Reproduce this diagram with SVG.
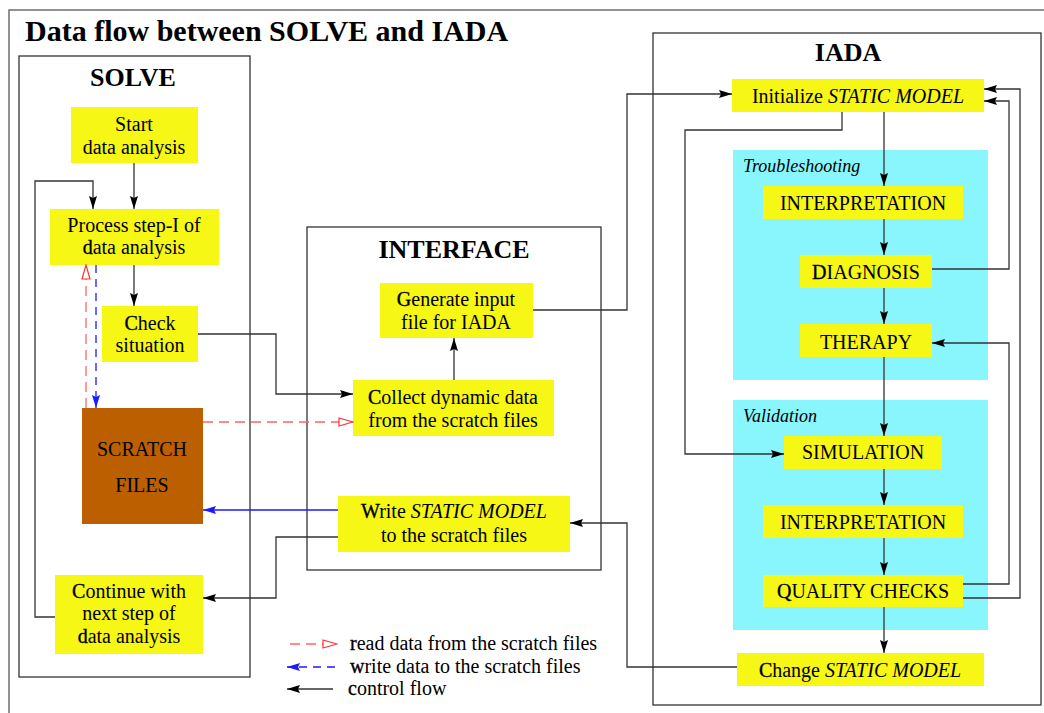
<svg xmlns="http://www.w3.org/2000/svg" width="1044" height="713" viewBox="0 0 1044 713">
<style>
.t{font-family:"Liberation Serif","Times New Roman",serif;font-size:20px;text-anchor:middle;fill:#000}
.l{font-family:"Liberation Serif","Times New Roman",serif;font-size:20px;fill:#000}
.it{font-style:italic}
.h{font-family:"Liberation Serif","Times New Roman",serif;font-size:26px;font-weight:bold;text-anchor:middle;fill:#000}
.sec{font-family:"Liberation Serif","Times New Roman",serif;font-size:18px;font-style:italic;fill:#000}
.f{stroke:#000;stroke-width:0.35}
.box{fill:#f7f716}
.cy{fill:#88f6fc}
.frame{fill:none;stroke:#333;stroke-width:1.3}
.c{fill:none;stroke:#333;stroke-width:1.3}
.rd{fill:none;stroke:#ff6464;stroke-width:1.3;stroke-dasharray:10 6}
.bd{fill:none;stroke:#1a1aff;stroke-width:1.3;stroke-dasharray:8 6}
.bs{fill:none;stroke:#1a1aff;stroke-width:1.5}
</style>
<defs>
<marker id="a" viewBox="0 0 13 8" refX="13" refY="4" markerWidth="13" markerHeight="8" markerUnits="userSpaceOnUse" orient="auto"><path d="M0,0 L13,4 L0,8 L2,4 z" fill="#000"/></marker>
<marker id="ab" viewBox="0 0 13 8" refX="13" refY="4" markerWidth="13" markerHeight="8" markerUnits="userSpaceOnUse" orient="auto"><path d="M0,0 L13,4 L0,8 L2,4 z" fill="#1a1aff"/></marker>
<marker id="ar" viewBox="-1 -1 16 10" refX="14" refY="4" markerWidth="16" markerHeight="10" markerUnits="userSpaceOnUse" orient="auto"><path d="M0,0 L14,4 L0,8 z" fill="#fff" stroke="#ff3030" stroke-width="1.2"/></marker>
</defs>
<rect width="1044" height="713" fill="#fff"/>
<rect x="9" y="10" width="1100" height="800" fill="none" stroke="#777" stroke-width="1.6"/>
<text x="25" y="41" font-family="Liberation Serif, Times New Roman, serif" font-size="30" font-weight="bold">Data flow between SOLVE and IADA</text>

<g id="solve">
<rect class="frame" x="19" y="56" width="231" height="621"/>
<text class="h" x="133" y="86">SOLVE</text>
</g>
<g id="interface">
<rect class="frame" x="307" y="227" width="294" height="343"/>
<text class="h" x="454" y="258">INTERFACE</text>
</g>
<g id="iada">
<rect class="frame" x="653" y="33" width="388" height="672"/>
<text class="h" x="848" y="61">IADA</text>
</g>
<g id="troubleshooting">
<rect class="cy" x="733" y="150" width="255" height="230"/>
<text class="sec" x="743" y="172">Troubleshooting</text>
</g>
<g id="validation">
<rect class="cy" x="733" y="400" width="255" height="230"/>
<text class="sec" x="743" y="422">Validation</text>
</g>

<g id="start">
<rect class="box" x="71" y="107" width="127" height="56"/>
<text class="t" x="134" y="131">Start</text>
<text class="t" x="134" y="154">data analysis</text>
</g>
<g id="process">
<rect class="box" x="50" y="209" width="169" height="56"/>
<text class="t" x="134" y="232">Process step-I of</text>
<text class="t" x="134" y="254"><tspan class="f">d</tspan>ata analysis</text>
</g>
<g id="check">
<rect class="box" x="102" y="306" width="96" height="56"/>
<text class="t" x="150" y="330"><tspan class="f">C</tspan>heck</text>
<text class="t" x="150" y="352">situation</text>
</g>
<g id="scratch">
<rect x="82" y="408" width="121" height="116" fill="#bb5f00"/>
<text class="t" x="142" y="456">SCRATCH</text>
<text class="t" x="142" y="492">FILES</text>
</g>
<g id="continue">
<rect class="box" x="55" y="575" width="148" height="79"/>
<text class="t" x="129" y="598"><tspan class="f">C</tspan>ontinue with</text>
<text class="t" x="129" y="620">next step of</text>
<text class="t" x="129" y="643"><tspan class="f">d</tspan>ata analysis</text>
</g>
<g id="generate">
<rect class="box" x="380" y="283" width="153" height="55"/>
<text class="t" x="456" y="306"><tspan class="f">G</tspan>enerate input</text>
<text class="t" x="456" y="329">file for IADA</text>
</g>
<g id="collect">
<rect class="box" x="353" y="380" width="201" height="56"/>
<text class="t" x="453" y="404"><tspan class="f">C</tspan>ollect dynamic data</text>
<text class="t" x="453" y="427">from the scratch files</text>
</g>
<g id="write">
<rect class="box" x="338" y="496" width="232" height="56"/>
<text class="t" x="454" y="518"><tspan class="f">W</tspan>rite <tspan class="it">STATIC MODEL</tspan></text>
<text class="t" x="454" y="542">to the scratch files</text>
</g>
<g id="initialize">
<rect class="box" x="732" y="79" width="252" height="33"/>
<text class="t" x="858" y="103">Initialize <tspan class="it">STATIC MODEL</tspan></text>
</g>
<g id="interpretation1">
<rect class="box" x="763" y="186" width="200" height="33"/>
<text class="t" x="863" y="210">INTERPRETATION</text>
</g>
<g id="diagnosis">
<rect class="box" x="800" y="255" width="132" height="33"/>
<text class="t" x="866" y="279"><tspan class="f">D</tspan>IAGNOSIS</text>
</g>
<g id="therapy">
<rect class="box" x="800" y="324" width="132" height="33"/>
<text class="t" x="866" y="349">THERAPY</text>
</g>
<g id="simulation">
<rect class="box" x="784" y="436" width="158" height="33"/>
<text class="t" x="863" y="459">SIMULATION</text>
</g>
<g id="interpretation2">
<rect class="box" x="763" y="505" width="200" height="33"/>
<text class="t" x="863" y="529">INTERPRETATION</text>
</g>
<g id="quality">
<rect class="box" x="763" y="575" width="200" height="32"/>
<text class="t" x="863" y="598"><tspan class="f">Q</tspan>UALITY CHECKS</text>
</g>
<g id="change">
<rect class="box" x="737" y="653" width="247" height="33"/>
<text class="t" x="860" y="677"><tspan class="f">C</tspan>hange <tspan class="it">STATIC MODEL</tspan></text>
</g>

<g id="connectors">
<path class="c" d="M134,163 V209" marker-end="url(#a)"/>
<path class="c" d="M55,617 H35 V181 H93 V209" marker-end="url(#a)"/>
<path class="c" d="M134,265 V306" marker-end="url(#a)"/>
<path class="c" d="M198,334 H276 V394 H353" marker-end="url(#a)"/>
<path class="rd" d="M86,408 V265" marker-end="url(#ar)"/>
<path class="bd" d="M96,265 V408" marker-end="url(#ab)"/>
<path class="rd" d="M203,422 H353" marker-end="url(#ar)"/>
<path class="bs" d="M338,510 H203" marker-end="url(#ab)"/>
<path class="c" d="M338,537 H276 V598 H203" marker-end="url(#a)"/>
<path class="c" d="M454,380 V338" marker-end="url(#a)"/>
<path class="c" d="M533,310 H627 V94 H732" marker-end="url(#a)"/>
<path class="c" d="M737,667 H627 V523 H570" marker-end="url(#a)"/>
<path class="c" d="M884,112 V186" marker-end="url(#a)"/>
<path class="c" d="M842,112 V130 H685 V454 H784" marker-end="url(#a)"/>
<path class="c" d="M884,219 V255" marker-end="url(#a)"/>
<path class="c" d="M884,288 V324" marker-end="url(#a)"/>
<path class="c" d="M932,269 H1009 V101 H984" marker-end="url(#a)"/>
<path class="c" d="M884,357 V436" marker-end="url(#a)"/>
<path class="c" d="M884,469 V505" marker-end="url(#a)"/>
<path class="c" d="M884,538 V575" marker-end="url(#a)"/>
<path class="c" d="M963,584 H1009 V343 H932" marker-end="url(#a)"/>
<path class="c" d="M963,598 H1020 V89 H984" marker-end="url(#a)"/>
<path class="c" d="M884,607 V653" marker-end="url(#a)"/>
</g>

<g id="legend">
<path class="rd" d="M290,644 H337" marker-end="url(#ar)"/>
<text class="l" x="350" y="650"><tspan class="f">r</tspan>ead data from the scratch files</text>
<path class="bd" d="M335,667 H287" marker-end="url(#ab)"/>
<text class="l" x="350" y="673"><tspan class="f">w</tspan>rite data to the scratch files</text>
<path class="c" d="M333,689 H287" marker-end="url(#a)"/>
<text class="l" x="348" y="695"><tspan class="f">c</tspan>ontrol flow</text>
</g>
</svg>
